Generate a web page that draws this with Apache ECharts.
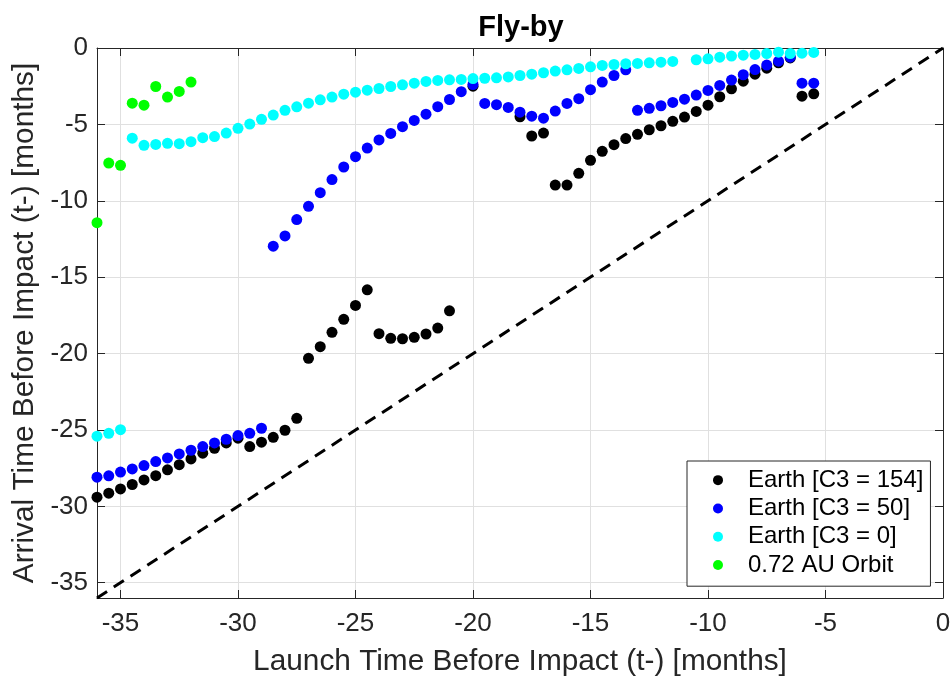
<!DOCTYPE html>
<html>
<head>
<meta charset="utf-8">
<title>Fly-by</title>
<script src="https://cdn.jsdelivr.net/npm/echarts@6/dist/echarts.min.js"></script>
<style>
    html, body { margin: 0; padding: 0; background: #fff; }
    #main { width: 951px; height: 677px; }
</style>
</head>
<body>
<div id="main"></div>
<script>
'use strict';

// tick labels (both axes)
var tickValues = [-35, -30, -25, -20, -15, -10, -5, 0];

// Earth [C3 = 154]
var launchC3_154 = [-36, -35.5, -35, -34.5, -34, -33.5, -33, -32.5, -32, -31.5, -31, -30.5, -30, -29.5, -29, -28.5, -28, -27.5,
    -27, -26.5, -26, -25.5, -25, -24.5, -24, -23.5, -23, -22.5, -22, -21.5, -21, -20, -18, -17.5, -17, -16.5, -16, -15.5,
    -15, -14.5, -14, -13.5, -13, -12.5, -12, -11.5, -11, -10.5, -10, -9.5, -9, -8.5, -8, -7.5, -7, -6.5, -6, -5.5];
var arrivalC3_154 = [-29.4, -29.14, -28.86, -28.57, -28.27, -27.99, -27.61, -27.27, -26.9, -26.52, -26.2, -25.85, -25.54, -26.09, -25.8, -25.48, -25.02, -24.24,
    -20.31, -19.55, -18.61, -17.76, -16.85, -15.83, -18.7, -19.0, -19.03, -18.94, -18.72, -18.33, -17.2, -2.5, -4.5, -5.76, -5.57, -8.97, -8.97, -8.2,
    -7.35, -6.76, -6.33, -5.93, -5.65, -5.35, -5.09, -4.8, -4.52, -4.15, -3.74, -3.19, -2.67, -2.17, -1.71, -1.32, -0.97, -0.65, -3.15, -3.0];

// Earth [C3 = 50]
var launchC3_50 = [-36, -35.5, -35, -34.5, -34, -33.5, -33, -32.5, -32, -31.5, -31, -30.5, -30, -29.5, -29,
    -28.5, -28, -27.5, -27, -26.5, -26, -25.5, -25, -24.5, -24, -23.5, -23, -22.5, -22, -21.5, -21, -20.5, -20,
    -19.5, -19, -18.5, -18, -17.5, -17, -16.5, -16, -15.5, -15, -14.5, -14, -13.5,
    -13, -12.5, -12, -11.5, -11, -10.5, -10, -9.5, -9, -8.5, -8, -7.5, -7, -6.5, -6, -5.5];
var arrivalC3_50 = [-28.09, -28.0, -27.76, -27.55, -27.33, -27.07, -26.83, -26.57, -26.33, -26.09, -25.85, -25.61, -25.37, -25.22, -24.89,
    -12.97, -12.3, -11.23, -10.36, -9.47, -8.61, -7.79, -7.11, -6.55, -6.02, -5.59, -5.15, -4.74, -4.33, -3.84, -3.37, -2.86, -2.39,
    -3.63, -3.71, -3.89, -4.2, -4.46, -4.59, -4.13, -3.63, -3.32, -2.73, -2.23, -1.8, -1.43,
    -4.08, -3.95, -3.78, -3.56, -3.35, -3.08, -2.78, -2.45, -2.1, -1.75, -1.41, -1.12, -0.86, -0.6, -2.3, -2.3];

// Earth [C3 = 0]
var launchC3_0 = [-36, -35.5, -35,
    -34.5, -34, -33.5, -33, -32.5, -32, -31.5, -31, -30.5, -30, -29.5, -29, -28.5, -28, -27.5, -27, -26.5, -26, -25.5, -25,
    -24.5, -24, -23.5, -23, -22.5, -22, -21.5, -21, -20.5, -20, -19.5, -19, -18.5, -18, -17.5, -17, -16.5, -16, -15.5, -15,
    -14.5, -14, -13.5, -13, -12.5, -12, -11.5,
    -10.5, -10, -9.5, -9, -8.5, -8, -7.5, -7, -6.5, -6, -5.5];
var arrivalC3_0 = [-25.41, -25.22, -24.98,
    -5.9, -6.37, -6.31, -6.24, -6.26, -6.13, -5.87, -5.8, -5.57, -5.26, -4.98, -4.67, -4.39, -4.08, -3.85, -3.61, -3.39, -3.21, -3.02, -2.89,
    -2.76, -2.65, -2.52, -2.41, -2.3, -2.19, -2.12, -2.08, -2.06, -2.0, -1.98, -1.95, -1.89, -1.8, -1.71, -1.62, -1.51, -1.43, -1.34, -1.23,
    -1.14, -1.08, -1.03, -1.01, -0.97, -0.93, -0.88,
    -0.77, -0.71, -0.6, -0.53, -0.47, -0.42, -0.36, -0.27, -0.36, -0.34, -0.29];

// 0.72 AU Orbit
var launchVenus = [-36, -35.5, -35, -34.5, -34, -33.5, -33, -32.5, -32];
var arrivalVenus = [-11.43, -7.53, -7.68, -3.61, -3.74, -2.52, -3.21, -2.84, -2.23];

// launch = arrival reference line
var diagonal = [[-36, -36], [0, 0]];

var seriesNames = ['Earth [C3 = 154]', 'Earth [C3 = 50]', 'Earth [C3 = 0]', '0.72 AU Orbit'];
var seriesColors = ['#000000', '#0000ff', '#00ffff', '#00ff00'];

var FONT = '"Liberation Sans", Arial, Helvetica, sans-serif';
var AXIS_COLOR = '#262626';

function zip(xs, ys) {
    var out = [];
    for (var i = 0; i < xs.length; i++) {
        out.push([xs[i], ys[i]]);
    }
    return out;
}

function makeAxis(pos, isX, main) {
    var axis = {
        type: 'value',
        position: pos,
        min: -36,
        max: 0,
        axisLine: { show: true, onZero: false, lineStyle: { color: AXIS_COLOR, width: 1 } },
        axisTick: {
            show: true,
            inside: true,
            length: 8,
            customValues: tickValues,
            lineStyle: { color: AXIS_COLOR, width: 1 }
        },
        axisLabel: { show: false },
        splitLine: { show: false }
    };
    if (main) {
        axis.axisLabel = {
            show: true,
            customValues: tickValues,
            fontFamily: FONT,
            fontSize: 26,
            color: AXIS_COLOR,
            margin: isX ? 13 : 9
        };
        axis.splitLine = { show: true, lineStyle: { color: '#e0e0e0', width: 1 } };
        axis.nameLocation = 'middle';
        axis.nameTextStyle = { fontFamily: FONT, fontSize: 29.8, color: AXIS_COLOR };
        if (isX) {
            axis.name = 'Launch Time Before Impact (t-) [months]';
            axis.nameGap = 49;
        } else {
            axis.name = 'Arrival Time Before Impact (t-) [months]';
            axis.nameGap = 56;
        }
    }
    return axis;
}

var launches = [launchC3_154, launchC3_50, launchC3_0, launchVenus];
var arrivals = [arrivalC3_154, arrivalC3_50, arrivalC3_0, arrivalVenus];

var series = [];
for (var k = 0; k < seriesNames.length; k++) {
    series.push({
        name: seriesNames[k],
        type: 'scatter',
        symbol: 'circle',
        symbolSize: 11,
        itemStyle: { color: seriesColors[k], opacity: 1 },
        emphasis: { disabled: true },
        data: zip(launches[k], arrivals[k])
    });
}
series.push({
    name: 'diagonal',
    type: 'line',
    data: diagonal,
    showSymbol: false,
    silent: true,
    lineStyle: { color: '#000', width: 3, type: [12, 8] },
    z: 1
});

var chart = echarts.init(document.getElementById('main'), null, { renderer: 'canvas' });
chart.setOption({
    animation: false,
    backgroundColor: '#fff',
    title: {
        text: 'Fly-by',
        left: 521,
        top: 13,
        padding: 0,
        textAlign: 'center',
        textStyle: { fontFamily: FONT, fontSize: 29, fontWeight: 'bold', color: '#000' }
    },
    grid: { left: 97, right: 8, top: 48, bottom: 79, containLabel: false, outerBoundsMode: 'none' },
    xAxis: [makeAxis('bottom', true, true), makeAxis('top', true, false)],
    yAxis: [makeAxis('left', false, true), makeAxis('right', false, false)],
    legend: {
        data: seriesNames,
        orient: 'vertical',
        left: 687,
        top: 461,
        icon: 'circle',
        itemWidth: 10,
        itemHeight: 10,
        itemGap: 4,
        padding: [7, 7, 9, 26],
        backgroundColor: '#fff',
        borderColor: AXIS_COLOR,
        borderWidth: 1,
        borderRadius: 0,
        selectedMode: false,
        textStyle: { fontFamily: FONT, fontSize: 24, lineHeight: 24.3, color: '#000', padding: [0, 0, 0, 20] }
    },
    series: series
});
</script>
</body>
</html>
